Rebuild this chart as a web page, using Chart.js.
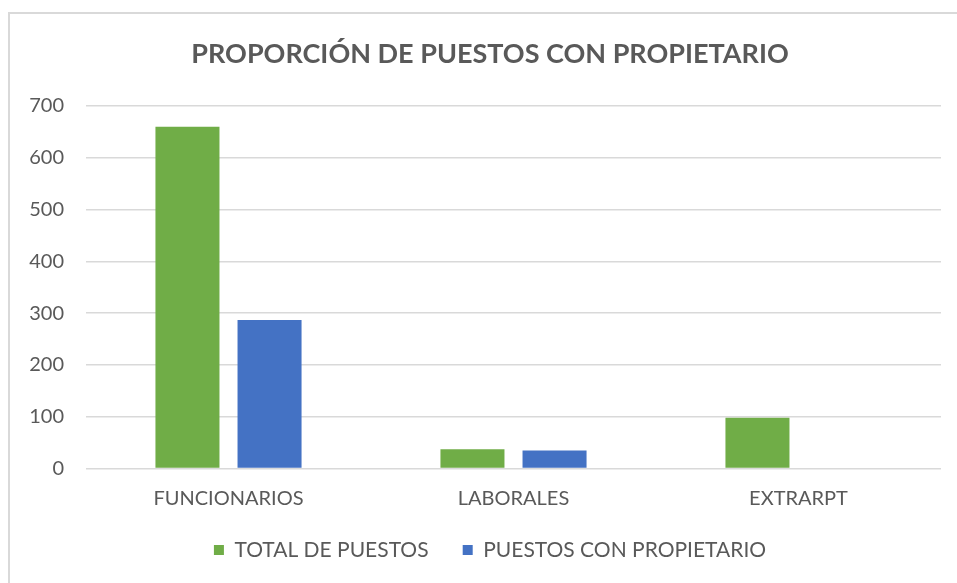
<!DOCTYPE html>
<html>
<head>
<meta charset="utf-8">
<script src="https://cdn.jsdelivr.net/npm/chart.js@4/dist/chart.umd.min.js"></script>
<style>
  html, body { margin: 0; padding: 0; background: #ffffff; overflow: hidden; }
  #frame { position: absolute; left: 8px; top: 12px; width: 1000px; height: 1000px; border: 2px solid #d9d9d9; box-sizing: border-box; }
  #wrap { position: absolute; left: 0; top: 0; width: 957px; height: 583px; }
</style>
</head>
<body>
<div id="frame"></div>
<div id="wrap"><canvas id="c" width="957" height="583"></canvas></div>
<script>
const categories = ["FUNCIONARIOS", "LABORALES", "EXTRARPT"];
const totalPuestos = [660, 37, 98];
const puestosConPropietario = [287, 35, 0];
const seriesNames = ["TOTAL DE PUESTOS", "PUESTOS CON PROPIETARIO"];
const yTicks = [0, 100, 200, 300, 400, 500, 600, 700];
const titleText = "PROPORCIÓN DE PUESTOS CON PROPIETARIO";

const textColor = "#595959";
const fontFamily = "Lato, 'Open Sans', sans-serif";

new Chart(document.getElementById("c"), {
  type: "bar",
  data: {
    labels: categories,
    datasets: [
      { label: seriesNames[0], data: totalPuestos, backgroundColor: "#70AD47", borderWidth: 0 },
      { label: seriesNames[1], data: puestosConPropietario, backgroundColor: "#4472C4", borderWidth: 0 }
    ]
  },
  options: {
    responsive: false,
    animation: false,
    devicePixelRatio: 1,
    datasets: { bar: { categoryPercentage: 0.576, barPercentage: 0.78 } },
    layout: { padding: { left: 27, right: 4, top: 0, bottom: 12.5 } },
    plugins: {
      title: {
        display: true,
        text: titleText,
        color: textColor,
        font: { family: fontFamily, size: 27, weight: "bold" },
        padding: { top: 38, bottom: 35.6 }
      },
      legend: {
        display: true,
        position: "bottom",
        labels: {
          color: textColor,
          font: { family: fontFamily, size: 21 },
          boxWidth: 10,
          boxHeight: 10,
          padding: 18,
          generateLabels: (chart) => {
            const items = Chart.defaults.plugins.legend.labels.generateLabels(chart);
            if (items.length) items[0].text = items[0].text + "\u00A0\u00A0\u00A0";
            return items;
          }
        }
      },
      tooltip: { enabled: false }
    },
    scales: {
      x: {
        grid: { display: false },
        border: { display: false },
        ticks: { color: textColor, font: { family: fontFamily, size: 20 }, padding: 10.5 }
      },
      y: {
        min: 0,
        max: 700,
        afterBuildTicks: (s) => { s.ticks = yTicks.map(v => ({ value: v })); },
        afterFit: (s) => { s.width = 59; },
        grid: { color: "#d9d9d9", lineWidth: 1.5, drawTicks: false },
        border: { display: false },
        ticks: { color: textColor, font: { family: fontFamily, size: 20 }, padding: 22 }
      },
      yRightSpacer: {
        position: "right",
        display: true,
        min: 0,
        max: 700,
        afterFit: (s) => { s.width = 12; },
        grid: { display: false, drawTicks: false },
        border: { display: false },
        ticks: { display: false }
      }
    }
  }
});
</script>
</body>
</html>
